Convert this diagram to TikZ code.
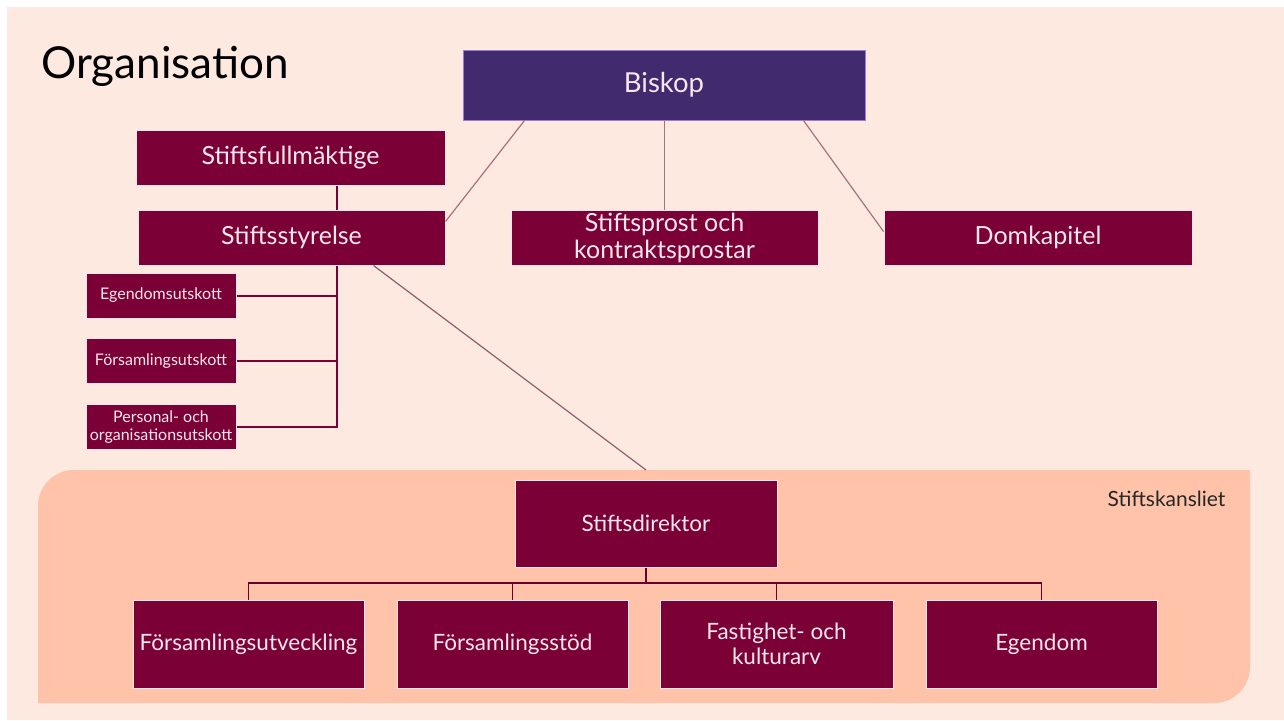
\documentclass[tikz,border=0pt]{standalone}
\usepackage{fontspec}
\setmainfont{Lato}
\usepackage{xcolor}
\definecolor{blush}{HTML}{FDE9E0}
\definecolor{peach}{HTML}{FEC3A9}
\definecolor{wine}{HTML}{7A0035}
\definecolor{plum}{HTML}{422A6E}
\definecolor{lilac}{HTML}{9B7BD8}
\definecolor{mauve}{HTML}{A8707F}
\definecolor{boxtext}{HTML}{F7E7EC}

\tikzset{
  orgbox/.style={draw=boxtext,line width=1pt,fill=wine,text=boxtext,align=center,
    inner sep=0pt,font=\fontsize{25}{27}\selectfont},
  smallbox/.style={orgbox,minimum width=150pt,minimum height=45pt,
    font=\fontsize{16}{17.5}\selectfont},
  lowbox/.style={orgbox,minimum width=231pt,minimum height=88pt,
    font=\fontsize{22.5}{25}\selectfont},
  treeline/.style={draw=wine,line width=2pt},
  bishopline/.style={draw=mauve,line width=1.2pt},
  busline/.style={draw=wine!85!black,line width=1.2pt}
}

\begin{document}
\begin{tikzpicture}[x=1pt,y=-1pt]
  \useasboundingbox (0,0) rectangle (1284,720);
  \fill[white] (0,0) rectangle (1284,720);
  \fill[blush] (7,7) rectangle (1284,720);

  % Stiftskansliet area
  \fill[peach] (38,703) -- (38,506) .. controls (38,486.1) and (53.9,470) .. (74,470)
    -- (1250,470) -- (1250,667) .. controls (1250,686.9) and (1234.1,703) .. (1214,703) -- cycle;
  \coordinate (kanstop) at (646,470);
  \node[anchor=base east,text=black!85,font=\fontsize{21}{24}\selectfont] (kanslabel) at (1229,506) {Stiftskansliet};

  \node[anchor=base west,font=\fontsize{44}{50}\selectfont] (title) at (38,78) {Organisation};

  % upper boxes
  \node[orgbox,fill=plum,draw=lilac,minimum width=402pt,minimum height=70pt,
    font=\fontsize{27.5}{30}\selectfont] (biskop) at (664,85) {Biskop};
  \node[orgbox,minimum width=309pt,minimum height=55pt] (fullm) at (290.5,157.5) {Stiftsfullmäktige};
  \node[orgbox,minimum width=307pt,minimum height=55pt] (styrelse) at (291.5,237.5) {Stiftsstyrelse};
  \node[orgbox,minimum width=307pt,minimum height=55pt] (prost) at (664.5,237.5)
    {Stiftsprost och\\kontraktsprostar};
  \node[orgbox,minimum width=308pt,minimum height=55pt] (domk) at (1038,237.5) {Domkapitel};

  % committees
  \node[smallbox] (uts1) at (161,295.5) {Egendomsutskott};
  \node[smallbox] (uts2) at (161,361) {Församlingsutskott};
  \node[smallbox] (uts3) at (161,427) {Personal- och\\organisationsutskott};

  % office
  \node[orgbox,minimum width=262pt,minimum height=87pt,
    font=\fontsize{22.5}{25}\selectfont] (direktor) at (646,523.5) {Stiftsdirektor};
  \node[lowbox] (utv) at (248.5,644) {Församlingsutveckling};
  \node[lowbox] (stod) at (512.5,644) {Församlingsstöd};
  \node[lowbox,minimum width=233pt] (kult) at (776.5,644) {Fastighet- och\\kulturarv};
  \node[lowbox] (egd) at (1041.5,644) {Egendom};

  % connectors
  \draw[bishopline] ([xshift=62pt]biskop.south west) -- ([yshift=-12pt]styrelse.north east);
  \draw[bishopline] (biskop.south -| prost.north) -- (prost.north);
  \draw[bishopline] ([xshift=-62pt]biskop.south east) -- ([yshift=-22pt]domk.north west);

  \coordinate (trunk) at (337,437);
  \draw[treeline] (fullm.south -| trunk) -- (styrelse.north -| trunk);
  \draw[treeline] (styrelse.south -| trunk) |- (uts3.east);
  \foreach \n in {uts1,uts2}
    \draw[treeline] (\n.east) -- (\n.east -| trunk);

  \draw[bishopline,draw=mauve!85!black] ([xshift=-72pt]styrelse.south east) -- (kanstop);

  \coordinate (bus) at (646,583);
  \draw[busline] (direktor.south) -- (bus);
  \foreach \n in {utv,stod,kult,egd}
    \draw[busline] (\n.north) |- (bus);
\end{tikzpicture}
\end{document}
